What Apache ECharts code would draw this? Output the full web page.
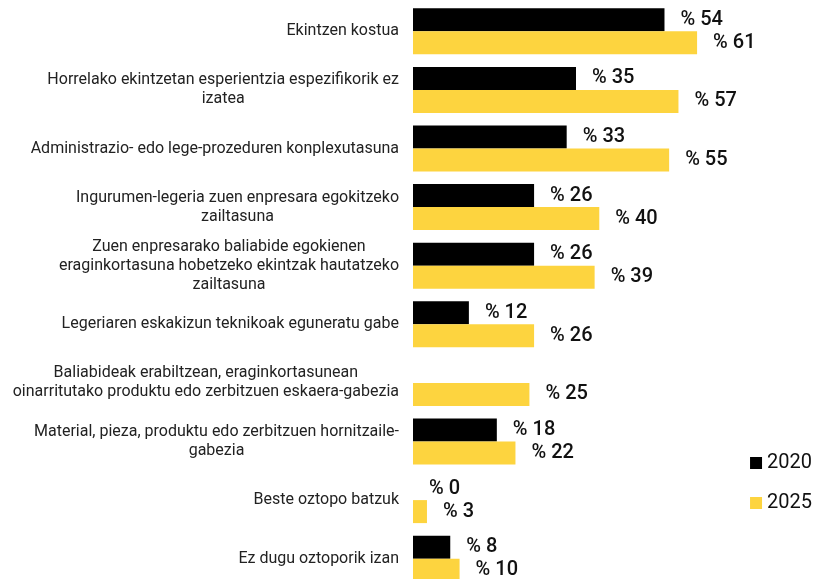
<!DOCTYPE html>
<html>
<head>
<meta charset="utf-8">
<script src="https://cdn.jsdelivr.net/npm/echarts@6/dist/echarts.min.js"></script>
<style>
  html, body { margin: 0; padding: 0; background: #fff; }
  #chart { width: 817px; height: 579px; }
</style>
</head>
<body>
<div id="chart"></div>
<script>
// Obstacle categories (top to bottom), with manual line breaks
const categories = [
  'Ekintzen kostua',
  'Horrelako ekintzetan esperientzia espezifikorik ez\nizatea',
  'Administrazio- edo lege-prozeduren konplexutasuna',
  'Ingurumen-legeria zuen enpresara egokitzeko\nzailtasuna',
  'Zuen enpresarako baliabide egokienen\neraginkortasuna hobetzeko ekintzak hautatzeko\nzailtasuna',
  'Legeriaren eskakizun teknikoak eguneratu gabe',
  'Baliabideak erabiltzean, eraginkortasunean\noinarritutako produktu edo zerbitzuen eskaera-gabezia',
  'Material, pieza, produktu edo zerbitzuen hornitzaile-\ngabezia',
  'Beste oztopo batzuk',
  'Ez dugu oztoporik izan'
];
const seriesNames = ['2020', '2025'];
const values2020 = [54, 35, 33, 26, 26, 12, null, 18, 0, 8];
const values2025 = [61, 57, 55, 40, 39, 26, 25, 22, 3, 10];
const colors = ['#000000', '#FDD43F'];

const chart = echarts.init(document.getElementById('chart'));

const valueLabel = {
  show: true,
  position: 'right',
  distance: 16,
  fontFamily: 'Roboto',
  fontSize: 20,
  fontWeight: 500,
  color: '#111111',
  formatter: p => (p.value === null || p.value === undefined) ? '' : '% ' + p.value
};

chart.setOption({
  animation: false,
  textStyle: { fontFamily: 'Roboto' },
  grid: {
    left: 413, top: 2, width: 326, height: 586,
    containLabel: false,
    outerBoundsMode: 'none'
  },
  legend: {
    data: seriesNames,
    orient: 'vertical',
    right: 0,
    top: 448,
    itemWidth: 12,
    itemHeight: 12,
    itemGap: 20,
    icon: 'rect',
    textStyle: { fontFamily: 'Roboto', fontSize: 20, color: '#111111' }
  },
  xAxis: {
    type: 'value',
    min: 0,
    max: 70,
    show: false
  },
  yAxis: {
    type: 'category',
    data: categories,
    inverse: true,
    axisLine: { show: false },
    axisTick: { show: false },
    axisLabel: {
      margin: 14,
      align: 'right',
      fontFamily: 'Roboto',
      fontSize: 16,
      color: '#222222',
      lineHeight: 19,
      formatter: v => v.split('\n').map(l => '{c|' + l + '}').join('\n'),
      rich: {
        c: { align: 'center', fontFamily: 'Roboto', fontSize: 16, color: '#222222', lineHeight: 19 }
      }
    }
  },
  series: [
    {
      name: seriesNames[0],
      type: 'bar',
      data: values2020,
      barWidth: 23,
      barGap: '0%',
      itemStyle: { color: colors[0] },
      label: valueLabel
    },
    {
      name: seriesNames[1],
      type: 'bar',
      data: values2025,
      barWidth: 23,
      itemStyle: { color: colors[1] },
      label: valueLabel
    }
  ]
});
</script>
</body>
</html>
